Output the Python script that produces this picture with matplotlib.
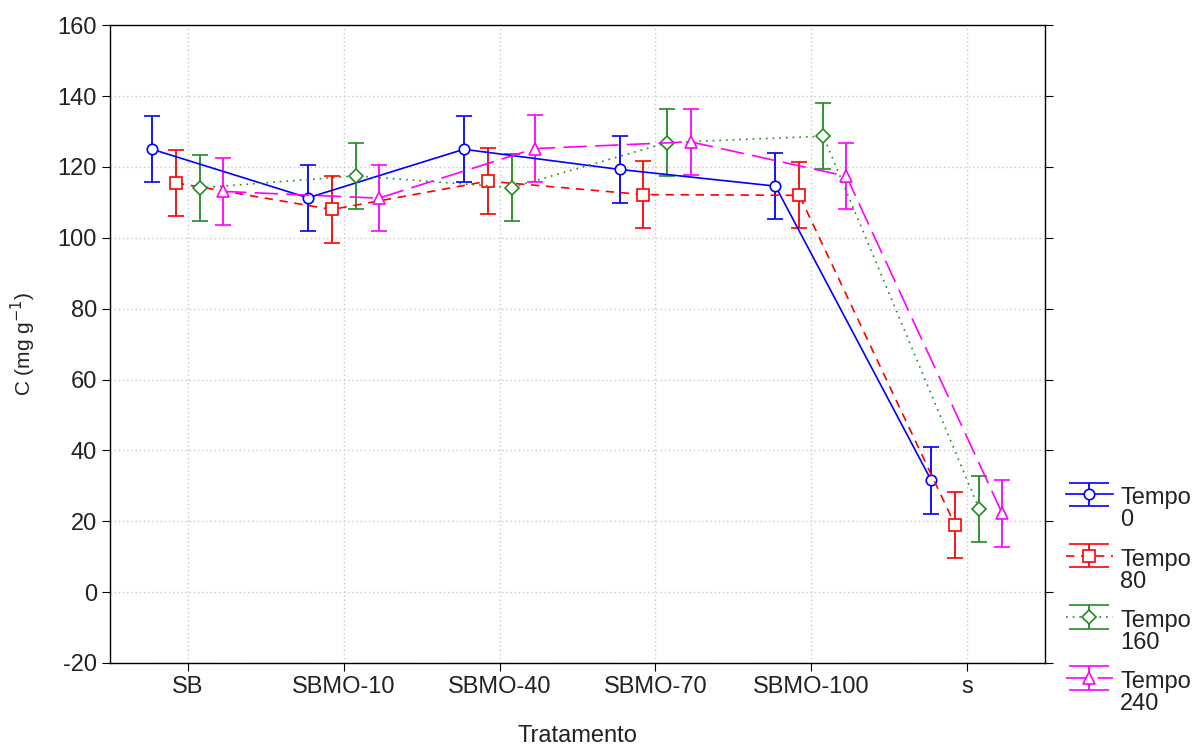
import matplotlib
matplotlib.use('Agg')
import matplotlib.pyplot as plt
from matplotlib.legend_handler import HandlerErrorbar
import numpy as np

tratamentos = ['SB', 'SBMO-10', 'SBMO-40', 'SBMO-70', 'SBMO-100', 's']
series = ['Tempo\n0', 'Tempo\n80', 'Tempo\n160', 'Tempo\n240']

tempo_0 = [125.0, 111.3, 125.0, 119.3, 114.6, 31.5]
tempo_80 = [115.5, 108.0, 116.0, 112.2, 112.0, 18.9]
tempo_160 = [114.1, 117.5, 114.2, 126.9, 128.7, 23.5]
tempo_240 = [113.1, 111.2, 125.2, 127.1, 117.4, 22.2]
erro = [9.35, 9.35, 9.35, 9.35]

plt.rcParams['font.family'] = ['Liberation Sans', 'DejaVu Sans']
plt.rcParams['axes.unicode_minus'] = False


class HandlerTopo(HandlerErrorbar):
    # sobe o simbolo para a linha "Tempo" e alarga as barras da legenda
    def create_artists(self, legend, orig_handle, xdescent, ydescent, width, height,
                       fontsize, trans):
        arts = super().create_artists(legend, orig_handle, xdescent, ydescent - 18.5,
                                      width, height * 1.3, fontsize, trans)
        for a in arts:
            if hasattr(a, 'get_marker') and a.get_marker() == '_':
                a.set_markersize(width * 0.85)
        return arts


fig = plt.figure(figsize=(12.04, 7.44), dpi=100)
ax = fig.add_axes([0.0914, 0.109, 0.7766, 0.857])

cores = ['#0000ff', '#ff0000', '#228b22', '#ff00ff']
marcadores = ['o', 's', 'D', '^']
estilos = ['-', (0, (5, 4)), (0, (1, 3)), (0, (14, 5))]
tamanhos = [7.5, 8, 7, 9]
deslocamentos = [-0.23, -0.077, 0.077, 0.225]
x = np.arange(len(tratamentos))

for i, vals in enumerate([tempo_0, tempo_80, tempo_160, tempo_240]):
    eb = ax.errorbar(x + deslocamentos[i], vals, yerr=erro[i], color=cores[i],
                     marker=marcadores[i], markersize=tamanhos[i], markerfacecolor='white',
                     markeredgecolor=cores[i], markeredgewidth=1.2, linewidth=1.2,
                     elinewidth=1.3, capsize=6, capthick=1.3, label=series[i])
    eb[0].set_linestyle(estilos[i])

ax.set_xlim(-0.5, 5.5)
ax.set_ylim(-20, 160)
ax.set_yticks(np.arange(-20, 161, 20))
ax.set_xticks(x)
ax.set_xticklabels(tratamentos)
ax.grid(True, color='#c8c8c8', linestyle=(0, (1, 2)), linewidth=1)
ax.tick_params(axis='both', labelsize=17, direction='out', length=6, color='black',
               labelcolor='#222222')
ax.tick_params(axis='y', right=True)
for s in ax.spines.values():
    s.set_color('black')
    s.set_linewidth(1)
ax.set_xlabel('Tratamento', fontsize=17, color='#222222')
ax.set_ylabel('C (mg g$^{-1}$)', fontsize=15, color='#222222')
ax.xaxis.set_label_coords(0.5, -0.097)
ax.yaxis.set_label_coords(-0.077, 0.5)

leg = ax.legend(loc='upper left', bbox_to_anchor=(1.012, 0.29), frameon=False,
                fontsize=17, handlelength=2.0, handletextpad=0.3, labelspacing=0.73,
                borderaxespad=0, handler_map={type(eb): HandlerTopo()})
for t in leg.get_texts():
    t.set_color('#222222')
    t.set_linespacing(1.0)

fig.savefig('out.png', dpi=100)
